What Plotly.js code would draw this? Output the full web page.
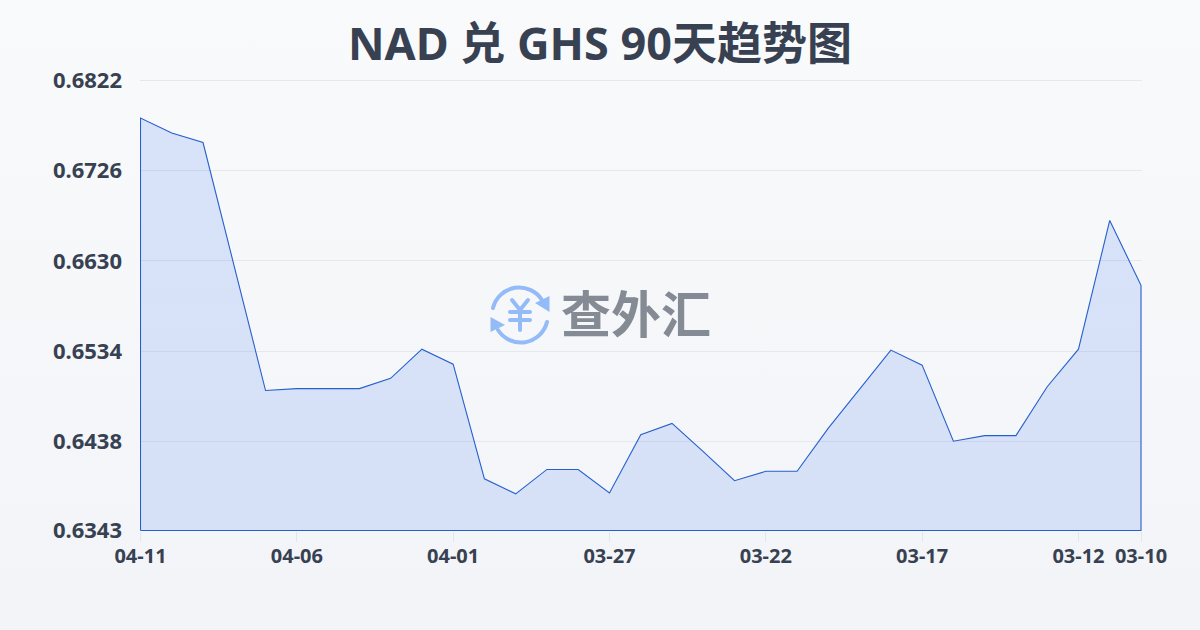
<!DOCTYPE html>
<html><head><meta charset="utf-8">
<script src="https://cdn.plot.ly/plotly-3.0.1.min.js"></script>
<style>html,body{margin:0;padding:0;width:1200px;height:630px;overflow:hidden;background:linear-gradient(180deg,#f9fafc 0%,#f2f4f7 100%);}</style>
</head><body><div id="chart" style="width:1200px;height:630px"></div>
<script>
const dates=["04-11","04-10","04-09","04-08","04-07","04-06","04-05","04-04","04-03","04-02","04-01","03-31","03-30","03-29","03-28","03-27","03-26","03-25","03-24","03-23","03-22","03-21","03-20","03-19","03-18","03-17","03-16","03-15","03-14","03-13","03-12","03-11","03-10"];
const rates=[0.6782,0.6766,0.6756,0.6624,0.6492,0.6494,0.6494,0.6494,0.6505,0.6536,0.6520,0.6398,0.6382,0.6408,0.6408,0.6383,0.6445,0.6457,0.6427,0.6396,0.6406,0.6406,0.6452,0.6494,0.6535,0.6519,0.6438,0.6444,0.6444,0.6496,0.6536,0.6673,0.6604];
const xTicks=["04-11","04-06","04-01","03-27","03-22","03-17","03-12","03-10"];
const yTicks=[0.6343,0.6438,0.6534,0.6630,0.6726,0.6822];
const yMin=0.6343,yMax=0.6822;
const titleText="NAD 兑 GHS 90天趋势图";
const watermark="查外汇";
const font='"Noto Sans","Noto Sans CJK SC",sans-serif';
const dark="#374151";
const grid="#e5e8ed";
const icon=`<svg xmlns="http://www.w3.org/2000/svg" viewBox="0 0 60 60"><g fill="none" stroke="#93bbf8" stroke-width="4" stroke-linecap="round" stroke-linejoin="round"><path d="M3 23A27 27 0 0 1 52 15"/><path d="M57 37A27 27 0 0 1 8 45"/><path d="M22 15L30 25L38 15M30 25V45M20 27H40M20 35H40"/></g><path d="M59.500 11L59.500 27L45 18Z M0.500 32L0.500 47L15 40Z" fill="#93bbf8"/></svg>`;
const data=[{
  type:"scatter",mode:"lines",cliponaxis:false,
  x:[dates[0],...dates,dates[dates.length-1],dates[0]],
  y:[yMin,...rates,yMin,yMin],
  fill:"toself",
  fillgradient:{type:"vertical",colorscale:[[0,"rgba(37,99,235,0.14)"],[1,"rgba(37,99,235,0.15)"]]},
  line:{color:"#2560cc",width:1.1,shape:"linear"},
  hoverinfo:"skip",showlegend:false
}];
const layout={
  width:1200,height:630,
  margin:{l:140,r:58,t:80,b:99},
  paper_bgcolor:"rgba(0,0,0,0)",plot_bgcolor:"rgba(0,0,0,0)",
  font:{family:font,color:dark},
  title:{text:titleText,font:{family:font,size:45,color:dark,weight:700},x:0.5,xanchor:"center",y:0.93,yanchor:"middle"},
  xaxis:{type:"category",categoryorder:"array",categoryarray:dates,range:[-0.016,32.032],autorange:false,
    tickmode:"array",tickvals:xTicks,ticktext:xTicks,ticks:"outside",ticklen:10,tickcolor:"#e2e6ec",tickwidth:1,
    showgrid:false,zeroline:false,showline:false,tickangle:0,ticklabelstandoff:-3,
    tickfont:{family:font,size:20,color:dark,weight:700}},
  yaxis:{range:[yMin-0.0000532,yMax+0.0000532],autorange:false,tickmode:"array",tickvals:yTicks,ticktext:yTicks.map(v=>v.toFixed(4)),
    showgrid:true,gridcolor:grid,gridwidth:1,zeroline:false,showline:false,ticks:"",ticklen:0,ticklabelstandoff:17,
    tickfont:{family:font,size:22,color:dark,weight:700},automargin:false,layer:"below traces"},
  shapes:[{type:"line",xref:"paper",x0:0,x1:1,yref:"y",y0:yMax,y1:yMax,layer:"below",line:{color:grid,width:1}}],
  images:[{source:"data:image/svg+xml;utf8,"+encodeURIComponent(icon),xref:"paper",yref:"paper",
    x:(490-140)/1002,y:1-(285-80)/451,sizex:60/1002,sizey:60/451,xanchor:"left",yanchor:"top",sizing:"contain",layer:"above"}],
  annotations:[{text:"<b>"+watermark+"</b>",xref:"paper",yref:"paper",x:(636-140)/1002,y:1-(314-80)/451,
    xanchor:"center",yanchor:"middle",showarrow:false,font:{family:font,size:50,color:"#858b94"}}]
};
Plotly.newPlot("chart",data,layout,{displayModeBar:false,staticPlot:true});
</script></body></html>
